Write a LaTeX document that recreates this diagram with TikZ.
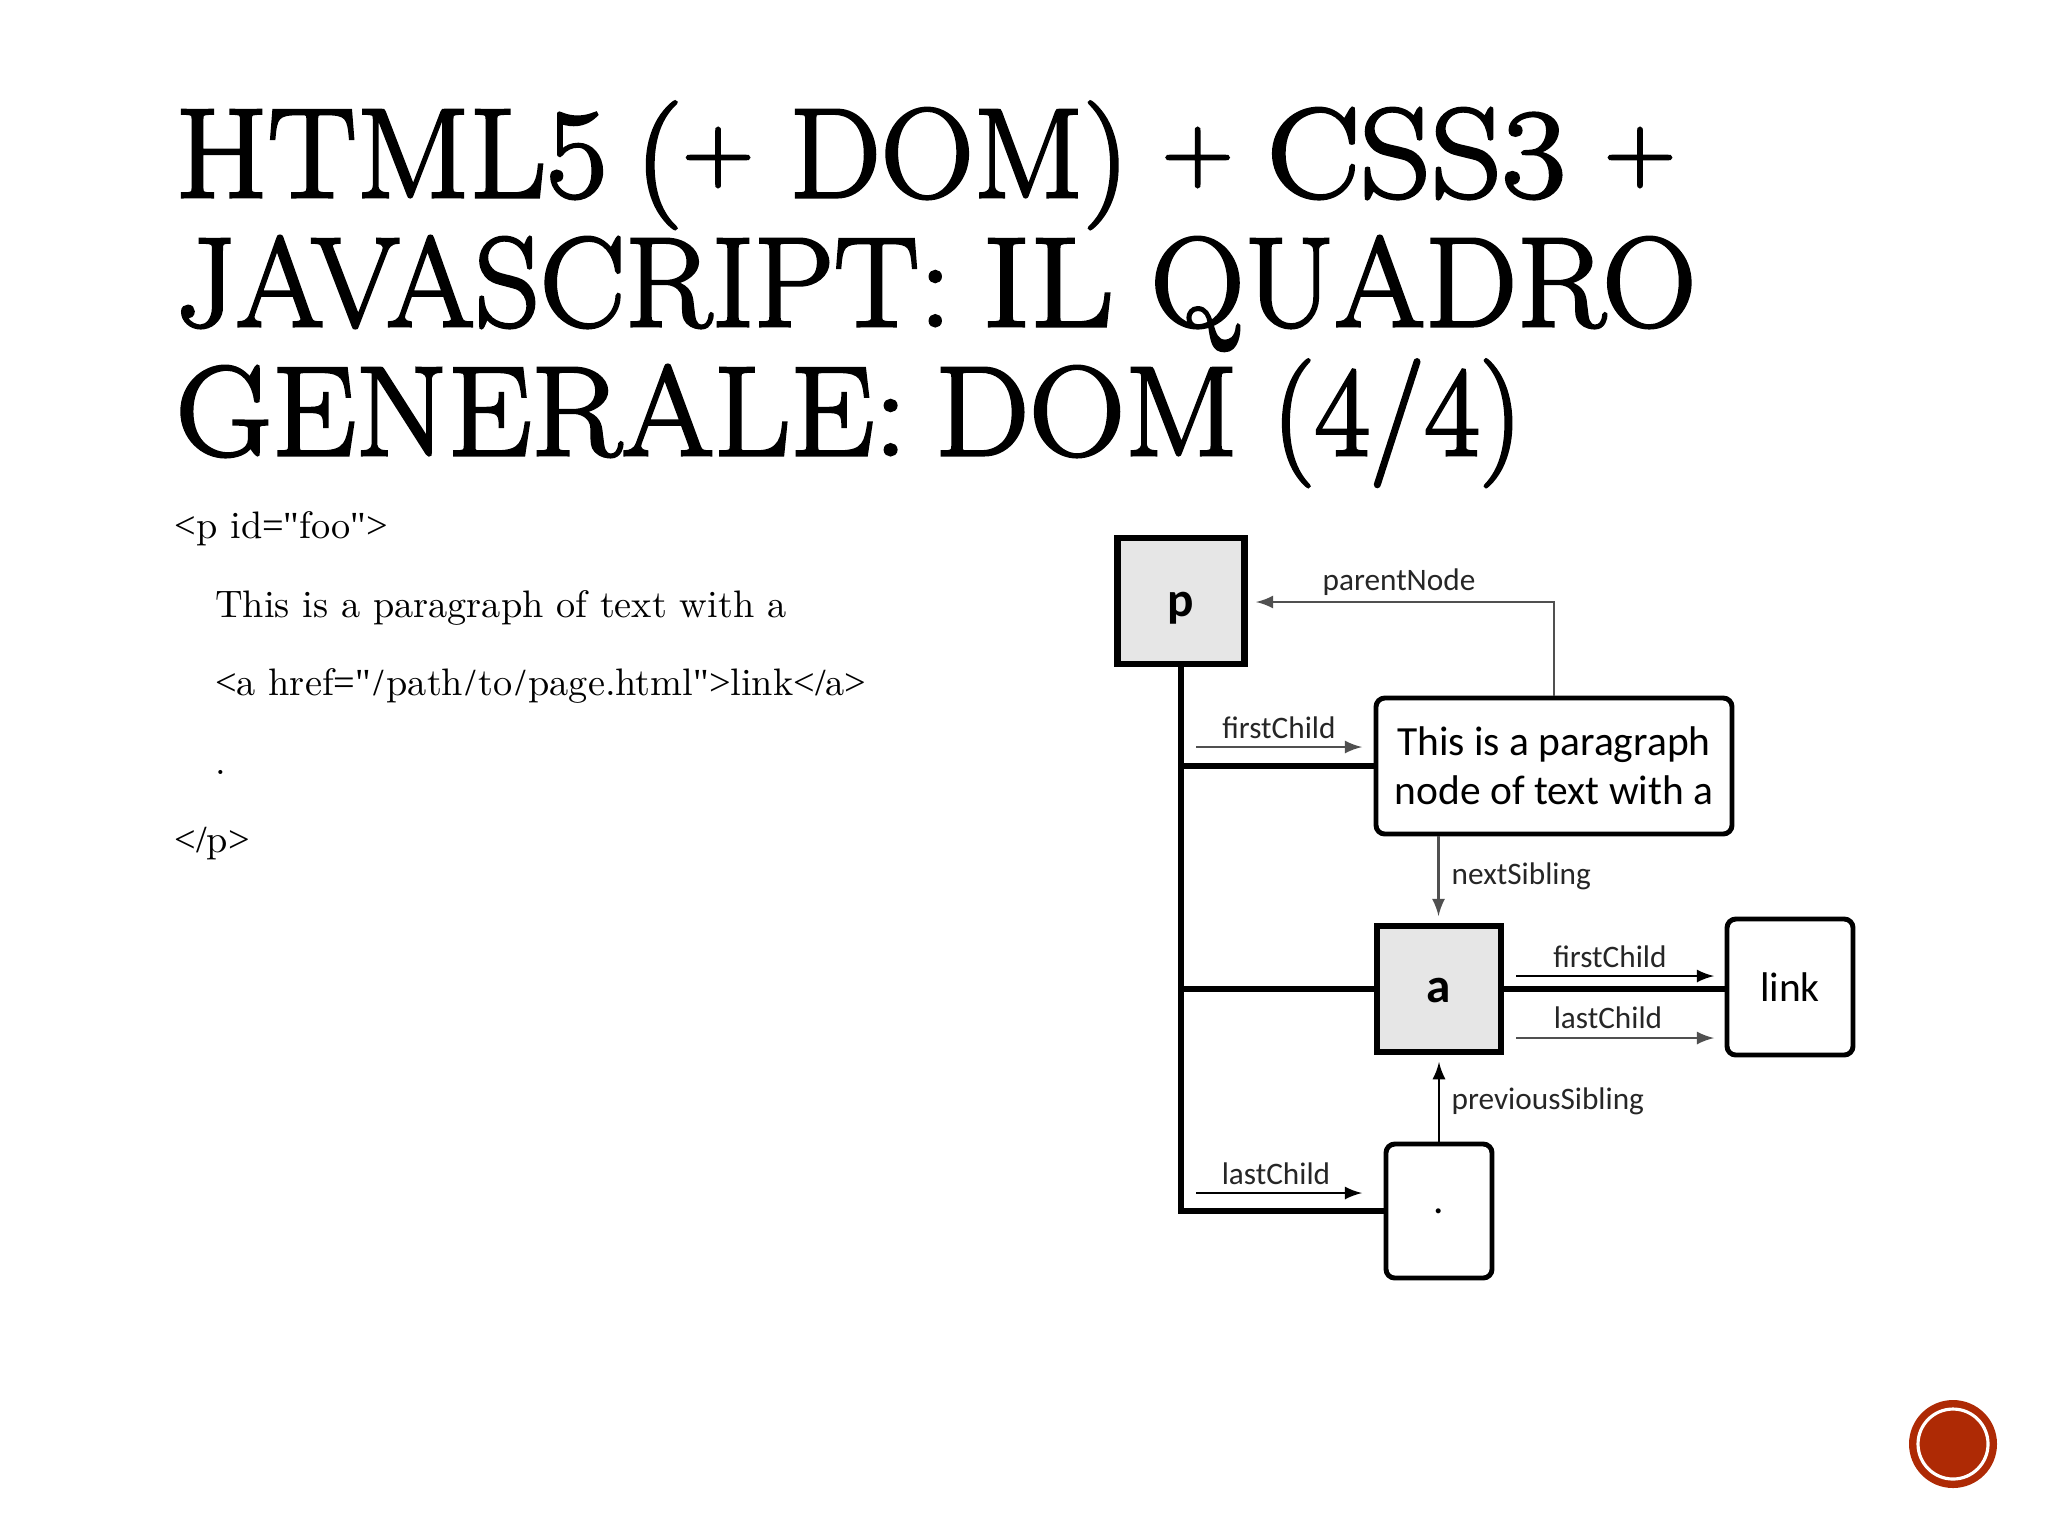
\documentclass[tikz,border=0pt]{standalone}
\usepackage{xcolor}
\usepackage{fontspec}
\usepackage{graphicx}
\usetikzlibrary{arrows}
\newfontfamily\diagramfont{Carlito}
\newfontfamily\titlefont[FakeBold=2.4, FakeStretch=1.045, WordSpace=0.7]{Latin Modern Roman}
\newfontfamily\markfont{Liberation Serif}
\newcommand{\mk}[1]{{\markfont #1}}
\newcommand{\pathsep}{\kern.7pt\mk{/}\kern.7pt}
\newcommand{\titleplus}{\raisebox{4.5pt}{\fontsize{27}{30}\selectfont +}}
\newcommand{\narrowed}[2]{\scalebox{#1}[1]{#2}}
\definecolor{slidered}{RGB}{174, 42, 5}
\definecolor{nodegray}{RGB}{230, 230, 230}
\definecolor{linkgray}{RGB}{80, 80, 80}
\tikzset{
    elementbox/.style={draw=black, fill=nodegray, line width=1.7pt, font=\diagramfont\fontsize{14}{16}\selectfont\bfseries},
    textbox/.style={draw=black, fill=white, line width=1.4pt, rounded corners=2.5pt, align=center, font=\diagramfont\fontsize{11.8}{13.9}\selectfont},
    linkline/.style={line width=1.5pt, black},
    pointer/.style={-latex, line width=0.7pt, linkgray},
    pointerlabel/.style={font=\diagramfont\fontsize{8.9}{10}\selectfont, text=black!85, inner sep=0pt}
}
\begin{document}
\begin{tikzpicture}[x=0.1mm, y=-0.1mm]
            \useasboundingbox (0,0) rectangle (2048,1536);
            \node[anchor=north west, inner sep=0pt, align=left, font=\titlefont\fontsize{36.2}{36.7}\selectfont] (title) at (175,101) {
                HTML5 (\titleplus{} \hspace{2.2pt}\narrowed{0.97}{DOM)} \hspace{1.4pt}\titleplus{} \hspace{1.6pt}\narrowed{1.045}{CSS3} \hspace{3pt}\titleplus\\
                \narrowed{0.96}{JAVASCRIPT:} \hspace{1pt}\narrowed{1.09}{IL} \hspace{2.5pt}\narrowed{0.98}{QUADRO}\\
                GENERALE: DOM \hspace{1.8pt}\narrowed{0.9}{(4/4)}
            };
            \node[anchor=north west, inner sep=0pt, align=left, font=\fontsize{10.9}{22.35}\selectfont] (source) at (174,511) {
                \mk{<}p id\mk{="}foo\mk{">}\\
                \hspace*{4.05mm}This is a paragraph of text with a\\
                \hspace*{4.05mm}\mk{<}a href\mk{="}\pathsep path\pathsep to\pathsep page.html\mk{">}link\mk{</}a\mk{>}\\
                \hspace*{4.05mm}.\\
                \mk{</}p\mk{>}
            };

            \node[elementbox, line width=1.9pt, minimum width=12.75mm, minimum height=12.6mm] (p) at (1181,601) {\raisebox{-4.5pt}[0pt][0pt]{p}};
            \node[textbox, minimum width=35.6mm, minimum height=13.6mm] (para) at (1554,766) {This is a paragraph\\node of text with a};
            \node[elementbox, minimum width=12.4mm, minimum height=12.6mm] (a) at (1438.5,989) {\raisebox{-3.8pt}[0pt][0pt]{a}};
            \node[textbox, minimum width=12.6mm, minimum height=13.6mm] (link) at (1790,987) {link};
            \node[textbox, minimum width=10.6mm, minimum height=13.4mm] (dot) at (1439,1211) {.};

            \draw[linkline] (p.south) |- (dot.west);
            \draw[linkline] (p.south |- para.west) -- (para.west);
            \draw[linkline] (p.south |- a.west) -- (a.west);
            \draw[linkline, line width=1.7pt] (a.east) -- (link.west |- a.east);

            \coordinate (parenttip) at (1256,602);
            \coordinate (nexttip) at (1438.5,916);
            \coordinate (prevtip) at (1439,1062);
            \coordinate (firstfrom) at (1196,747);
            \coordinate (firstto) at (1362,747);
            \coordinate (lastfrom) at (1196,1193);
            \coordinate (lastto) at (1362,1193);
            \coordinate (afirstfrom) at (1516,976);
            \coordinate (afirstto) at (1714,976);
            \coordinate (alastfrom) at (1516,1038);
            \coordinate (alastto) at (1714,1038);

            \draw[pointer] (para.north) |- (parenttip);
            \draw[pointer] (para.south -| a.north) -- (nexttip);
            \draw[pointer, black] (dot.north) -- (prevtip);
            \draw[pointer] (firstfrom) -- (firstto);
            \draw[pointer, black] (lastfrom) -- (lastto);
            \draw[pointer, black] (afirstfrom) -- (afirstto);
            \draw[pointer] (alastfrom) -- (alastto);

            \node[pointerlabel] (parentlabel) at (1399,582) {parentNode};
            \node[pointerlabel] (firstlabel) at (1279,728) {firstChild};
            \node[pointerlabel, anchor=west] (nextlabel) at (1451,876) {nextSibling};
            \node[pointerlabel] (afirstlabel) at (1610,957) {firstChild};
            \node[pointerlabel] (alastlabel) at (1608,1018) {lastChild};
            \node[pointerlabel, anchor=west] (prevlabel) at (1451,1101) {previousSibling};
            \node[pointerlabel] (lastlabel) at (1276,1174) {lastChild};

            \node[circle, fill=slidered, minimum size=8.8mm, inner sep=0pt] (badge) at (1953,1444) {};
            \node[circle, draw=white, line width=0.9pt, minimum size=7mm, inner sep=0pt] (badgering) at (badge) {};
        \end{tikzpicture}
\end{document}
